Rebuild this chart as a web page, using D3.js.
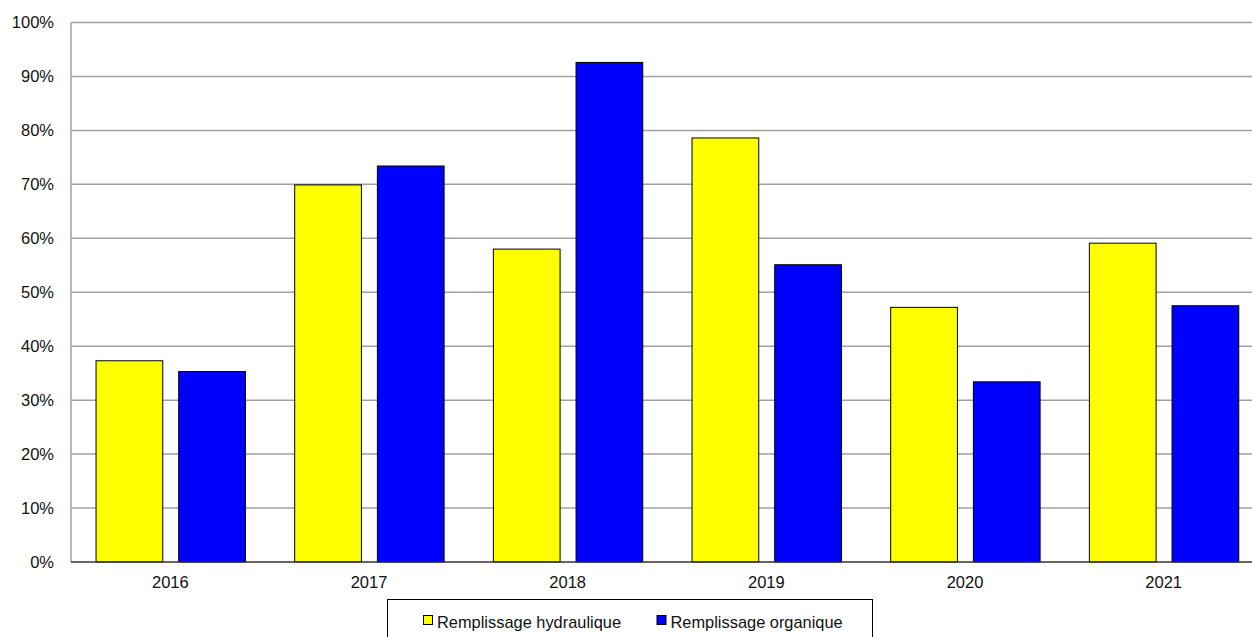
<!DOCTYPE html>
<html><head><meta charset="utf-8">
<script src="https://cdn.jsdelivr.net/npm/d3@7"></script>
<style>body{margin:0;background:#fff}svg{display:block}text{font-family:"Liberation Sans",Arial,sans-serif;fill:#111}</style>
</head><body><svg id="c" width="1252" height="637"></svg>
<script>
const years = ["2016","2017","2018","2019","2020","2021"];
const hydraulique = [37.3, 69.9, 58.0, 78.6, 47.2, 59.1];
const organique = [35.3, 73.4, 92.6, 55.1, 33.4, 47.5];
const seriesNames = ["Remplissage hydraulique", "Remplissage organique"];
const seriesColors = ["#ffff00", "#0000ff"];
const yTicks = [0,10,20,30,40,50,60,70,80,90,100];

const svg = d3.select("#c");
const L = 71, R = 1263, T = 22.5, B = 562;
const x = d3.scaleBand().domain(years).range([L, R]).paddingInner(0).paddingOuter(0);
const bw = x.bandwidth();
const inner = d3.scaleBand().domain([0,1]).range([bw*0.126, bw*0.878]).paddingInner(0.193).paddingOuter(0);
const y = d3.scaleLinear().domain([0,100]).range([B, T]);

// grid
svg.append("g").selectAll("line").data(yTicks.filter(d=>d>0)).join("line")
  .attr("x1", L).attr("x2", 1252).attr("y1", d=>y(d)).attr("y2", d=>y(d))
  .attr("stroke", "#a0a0a0").attr("stroke-width", 1.5);
// left axis line
svg.append("line").attr("x1", L).attr("x2", L).attr("y1", T).attr("y2", B)
  .attr("stroke", "#a0a0a0").attr("stroke-width", 1.5);

// y labels
const yAxis = d3.axisLeft(y).tickValues(yTicks).tickFormat(d=>d+"%").tickSize(0).tickPadding(17);
const ga = svg.append("g").attr("transform", `translate(${L},0)`).call(yAxis);
ga.select(".domain").remove();
ga.selectAll("text").style("font-size","16.5px").attr("fill","#111");

// bars
const data = [hydraulique, organique];
data.forEach((vals, si) => {
  svg.append("g").selectAll("rect").data(vals).join("rect")
    .attr("x", (d,i)=>x(years[i]) + inner(si))
    .attr("width", inner.bandwidth())
    .attr("y", d=>y(d))
    .attr("height", d=>B - y(d))
    .attr("fill", seriesColors[si])
    .attr("stroke", "#000").attr("stroke-width", 1);
});

// bottom axis
svg.append("line").attr("x1", L).attr("x2", 1252).attr("y1", B).attr("y2", B)
  .attr("stroke", "#333").attr("stroke-width", 1.5);
const xAxis = d3.axisBottom(x).tickSize(0).tickPadding(14);
const gx = svg.append("g").attr("transform", `translate(0,${B})`).call(xAxis);
gx.select(".domain").remove();
gx.selectAll("text").style("font-size","16.5px").attr("fill","#111");

// legend
const lg = svg.append("g");
lg.append("rect").attr("x", 387.5).attr("y", 599.5).attr("width", 485).attr("height", 60)
  .attr("fill", "#fff").attr("stroke", "#000").attr("stroke-width", 1);
const lx = [423, 656.5];
seriesNames.forEach((n, i) => {
  lg.append("rect").attr("x", lx[i]+0.5).attr("y", 615.5).attr("width", 9).attr("height", 9)
    .attr("fill", seriesColors[i]).attr("stroke", "#000").attr("stroke-width", 1);
  lg.append("text").attr("x", lx[i] + 14).attr("y", 628).style("font-size","16.4px").text(n);
});
</script></body></html>
